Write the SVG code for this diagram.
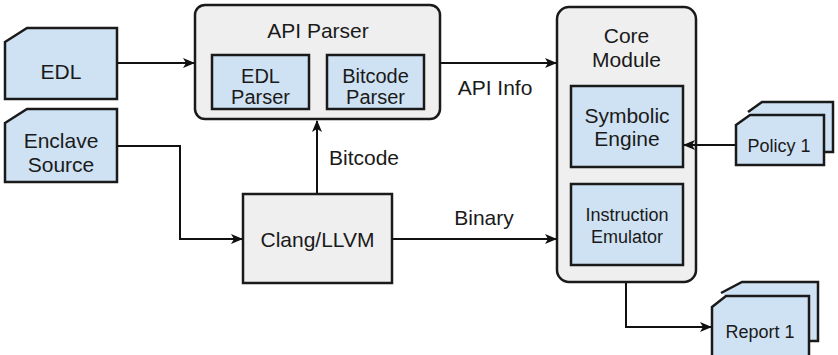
<svg xmlns="http://www.w3.org/2000/svg" width="838" height="355" viewBox="0 0 838 355">
<defs>
<marker id="ah" viewBox="0 0 12 10" refX="11" refY="5" markerWidth="12" markerHeight="10" markerUnits="userSpaceOnUse" orient="auto">
<path d="M0,0 L12,5 L0,10 L3,5 Z" fill="#111"/>
</marker>
<style>
.blue{fill:#cfe2f3;stroke:#1a1a1a;stroke-width:2.5}
.gray{fill:#efefef;stroke:#1a1a1a;stroke-width:2.5}
.t{font-family:"Liberation Sans",Arial,sans-serif;font-size:21px;fill:#1a1a1a;text-anchor:middle}
.m{font-size:20px}
.s{font-size:18px}
.c{fill:none;stroke:#111;stroke-width:2}
</style>
</defs>
<rect width="838" height="355" fill="#fff"/>
<g id="edl">
<path class="blue" d="M5,42 L27,28 H117 V99 H5 Z"/>
<text class="t" x="61" y="79">EDL</text>
</g>
<g id="enclave-source">
<path class="blue" d="M5,123 L27,109 H117 V182 H5 Z"/>
<text class="t" x="61" y="148">Enclave</text>
<text class="t" x="61" y="172">Source</text>
</g>
<g id="api-parser">
<rect class="gray" x="195" y="5" width="245" height="114" rx="10"/>
<text class="t" x="318" y="38">API Parser</text>
<g id="edl-parser">
<rect class="blue" x="212" y="55" width="97" height="54"/>
<text class="t m" x="260.5" y="83">EDL</text>
<text class="t m" x="260.5" y="104">Parser</text>
</g>
<g id="bitcode-parser">
<rect class="blue" x="327" y="55" width="97" height="54"/>
<text class="t m" x="375.5" y="83">Bitcode</text>
<text class="t m" x="375.5" y="104">Parser</text>
</g>
</g>
<g id="clang-llvm">
<rect class="gray" x="243" y="194" width="149" height="89"/>
<text class="t" x="317.5" y="247">Clang/LLVM</text>
</g>
<g id="core-module">
<rect class="gray" x="557" y="7" width="139" height="275" rx="12"/>
<text class="t" x="626.5" y="43">Core</text>
<text class="t" x="626.5" y="67">Module</text>
<g id="symbolic-engine">
<rect class="blue" x="571" y="86" width="112" height="81"/>
<text class="t" x="627" y="123">Symbolic</text>
<text class="t" x="627" y="146">Engine</text>
</g>
<g id="instruction-emulator">
<rect class="blue" x="571" y="184" width="112" height="81"/>
<text class="t s" x="627" y="221">Instruction</text>
<text class="t s" x="627" y="243">Emulator</text>
</g>
</g>
<g id="policy">
<path class="blue" d="M748,112 L762,102 H833 V152 H824"/>
<path class="blue" d="M736,125 L750,115 H824 V165 H736 Z"/>
<text class="t s" x="779" y="152">Policy 1</text>
</g>
<g id="report">
<path class="blue" d="M721,293 L742,282 H818 V341 H809"/>
<path class="blue" d="M712,307 L726,296 H809 V360 H712 Z"/>
<text class="t s" x="760" y="338">Report 1</text>
</g>
<g id="connectors">
<path class="c" d="M117,63 H194" marker-end="url(#ah)"/>
<path class="c" d="M117,146 H180 V239 H242" marker-end="url(#ah)"/>
<path class="c" d="M317,193 V121" marker-end="url(#ah)"/>
<path class="c" d="M392,239 H556" marker-end="url(#ah)"/>
<path class="c" d="M440,63 H556" marker-end="url(#ah)"/>
<path class="c" d="M735,145 H684" marker-end="url(#ah)"/>
<path class="c" d="M626,283 V327 H711" marker-end="url(#ah)"/>
<text class="t" x="495" y="95">API Info</text>
<text class="t" x="364" y="165">Bitcode</text>
<text class="t" x="484" y="225">Binary</text>
</g>
</svg>
